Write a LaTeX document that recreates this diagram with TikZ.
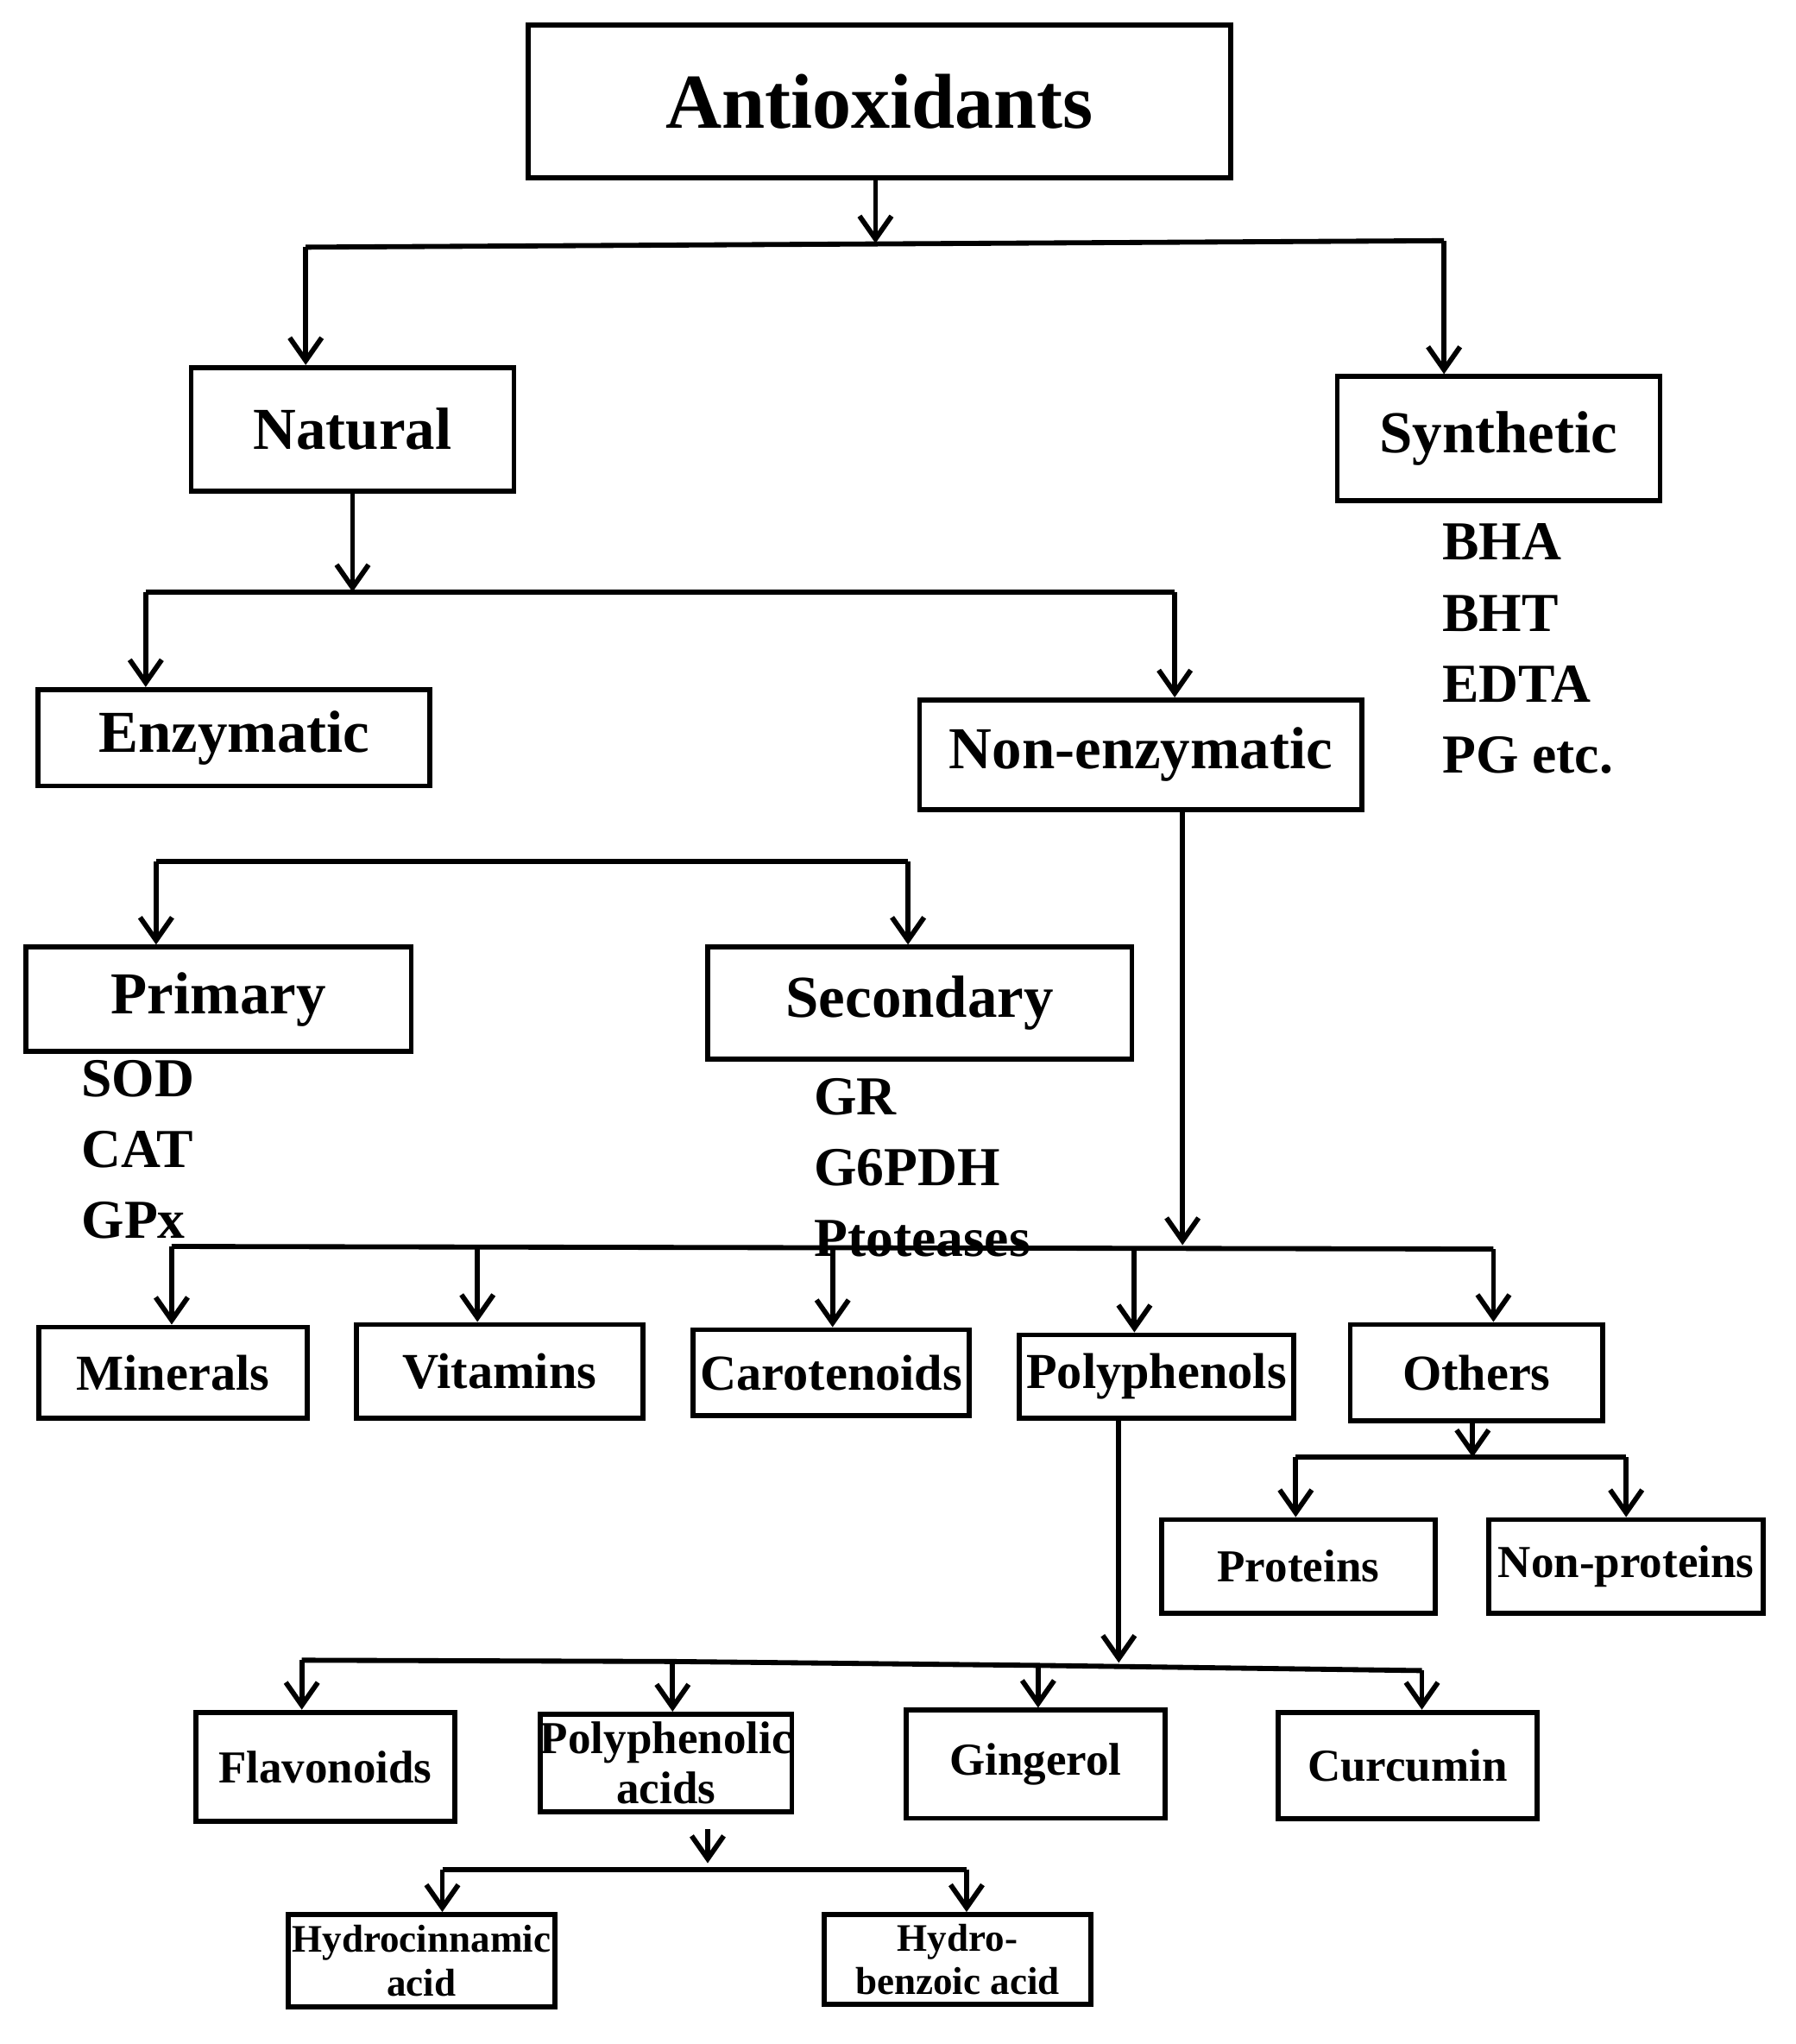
\documentclass[tikz,border=0pt]{standalone}
\usepackage{fontspec}
\setmainfont{Liberation Serif}
\usetikzlibrary{arrows.meta}
\begin{document}
\begin{tikzpicture}[x=0.01cm,y=-0.01cm,
  box/.style={draw,line width=1.1pt,inner sep=0pt,font=\bfseries},
  arr/.style={line width=1.1pt,-{Straight Barb[length=5pt,width=7pt]}},
  ln/.style={line width=1.1pt},
  fA/.style={font=\fontsize{17}{20}\selectfont\bfseries},
  fB/.style={font=\fontsize{13}{15}\selectfont\bfseries},
  fC/.style={font=\fontsize{11}{13}\selectfont\bfseries},
  fD/.style={font=\fontsize{10}{11}\selectfont\bfseries},
  fE/.style={font=\fontsize{8.5}{9.5}\selectfont\bfseries},
  lst/.style={anchor=north west,align=left,inner sep=0pt,font=\fontsize{12}{15.5}\selectfont\bfseries}]
\useasboundingbox (0,0) rectangle (1380,1571);
% boxes
\node[box,fA,minimum width=5.40cm,minimum height=1.17cm] (anti) at (676,78) {Antioxidants};
\node[box,fB,minimum width=2.48cm,minimum height=0.95cm] (nat) at (271,330) {Natural};
\node[box,fB,minimum width=2.48cm,minimum height=0.95cm] (syn) at (1152,337) {Synthetic};
\node[box,fB,minimum width=3.01cm,minimum height=0.74cm] (enz) at (180,567) {Enzymatic};
\node[box,fB,minimum width=3.40cm,minimum height=0.84cm] (non) at (877,580) {Non-enzymatic};
\node[box,fB,minimum width=2.96cm,minimum height=0.80cm] (pri) at (168,768) {Primary};
\node[box,fB,minimum width=3.26cm,minimum height=0.86cm] (sec) at (707,771) {Secondary};
\node[box,fC,minimum width=2.06cm,minimum height=0.70cm] (min) at (133,1055) {Minerals};
\node[box,fC,minimum width=2.20cm,minimum height=0.72cm] (vit) at (384,1054) {Vitamins};
\node[box,fC,minimum width=2.12cm,minimum height=0.66cm] (car) at (639,1055) {Carotenoids};
\node[box,fC,minimum width=2.11cm,minimum height=0.64cm] (pol) at (889,1058) {Polyphenols};
\node[box,fC,minimum width=1.94cm,minimum height=0.74cm] (oth) at (1135,1055) {Others};
\node[box,fD,minimum width=2.10cm,minimum height=0.72cm] (prot) at (998,1204) {Proteins};
\node[box,fD,minimum width=2.11cm,minimum height=0.72cm] (nprot) at (1250,1204) {Non-proteins};
\node[box,fD,minimum width=1.99cm,minimum height=0.84cm] (flav) at (250,1358) {Flavonoids};
\node[box,fD,minimum width=1.91cm,minimum height=0.75cm,align=center] (pacid) at (512,1355) {Polyphenolic\\acids};
\node[box,fD,minimum width=1.99cm,minimum height=0.83cm] (ging) at (796,1356) {Gingerol};
\node[box,fD,minimum width=1.99cm,minimum height=0.82cm] (curc) at (1082,1357) {Curcumin};
\node[box,fE,minimum width=2.05cm,minimum height=0.71cm,align=center] (hcin) at (324,1507) {Hydrocinnamic\\acid};
\node[box,fE,minimum width=2.05cm,minimum height=0.69cm,align=center] (hben) at (736,1506) {Hydro-\\benzoic acid};
% lists
\node[lst] (synl) at (1108,402) {BHA\\BHT\\EDTA\\PG etc.};
\node[lst] (pril) at (62,814) {SOD\\CAT\\GPx};
\node[lst] (secl) at (625,828) {GR\\G6PDH\\Ptoteases};
% junctions
\coordinate (a1) at (673,187); \coordinate (aL) at (235,190); \coordinate (aR) at (1110,185);
\draw[arr] (anti.south -| a1) -- (a1);
\draw[ln] (aL) -- (aR);
\draw[arr] (aL) -- (nat.north -| aL);
\draw[arr] (aR) -- (syn.north -| aR);
\coordinate (n1) at (271,455); \coordinate (nL) at (112,455); \coordinate (nR) at (903,455);
\draw[arr] (nat.south -| n1) -- (n1);
\draw[ln] (nL) -- (nR);
\draw[arr] (nL) -- (enz.north -| nL);
\draw[arr] (nR) -- (non.north -| nR);
\coordinate (eL) at (120,662); \coordinate (eR) at (698,662);
\draw[ln] (eL) -- (eR);
\draw[arr] (eL) -- (pri.north -| eL);
\draw[arr] (eR) -- (sec.north -| eR);
\coordinate (m1) at (909,957); \coordinate (mL) at (132,958); \coordinate (mR) at (1148,960);
\draw[arr] (non.south -| m1) -- (m1);
\draw[ln] (mL) -- (mR);
\draw[arr] (mL) -- (min.north -| mL);
\draw[arr] (367,959) -- (vit.north -| 367,0);
\draw[arr] (640,959) -- (car.north -| 640,0);
\draw[arr] (872,959) -- (pol.north -| 872,0);
\draw[arr] (mR) -- (oth.north -| mR);
\coordinate (o1) at (1132,1120); \coordinate (oL) at (996,1120); \coordinate (oR) at (1250,1120);
\draw[arr] (oth.south -| o1) -- (o1);
\draw[ln] (oL) -- (oR);
\draw[arr] (oL) -- (prot.north -| oL);
\draw[arr] (oR) -- (nprot.north -| oR);
\coordinate (p1) at (860,1278); \coordinate (pL) at (232,1276); \coordinate (pR) at (1093,1284);
\draw[arr] (pol.south -| p1) -- (p1);
\draw[ln] (pL) -- (517,1277) -- (798,1280) -- (pR);
\draw[arr] (pL) -- (flav.north -| pL);
\draw[arr] (517,1277) -- (pacid.north -| 517,0);
\draw[arr] (798,1280) -- (ging.north -| 798,0);
\draw[arr] (pR) -- (curc.north -| pR);
\coordinate (q0) at (544,1406); \coordinate (q1) at (544,1432); \coordinate (qL) at (340,1437); \coordinate (qR) at (743,1437);
\draw[arr] (q0) -- (q1);
\draw[ln] (qL) -- (qR);
\draw[arr] (qL) -- (hcin.north -| qL);
\draw[arr] (qR) -- (hben.north -| qR);
\end{tikzpicture}
\end{document}
